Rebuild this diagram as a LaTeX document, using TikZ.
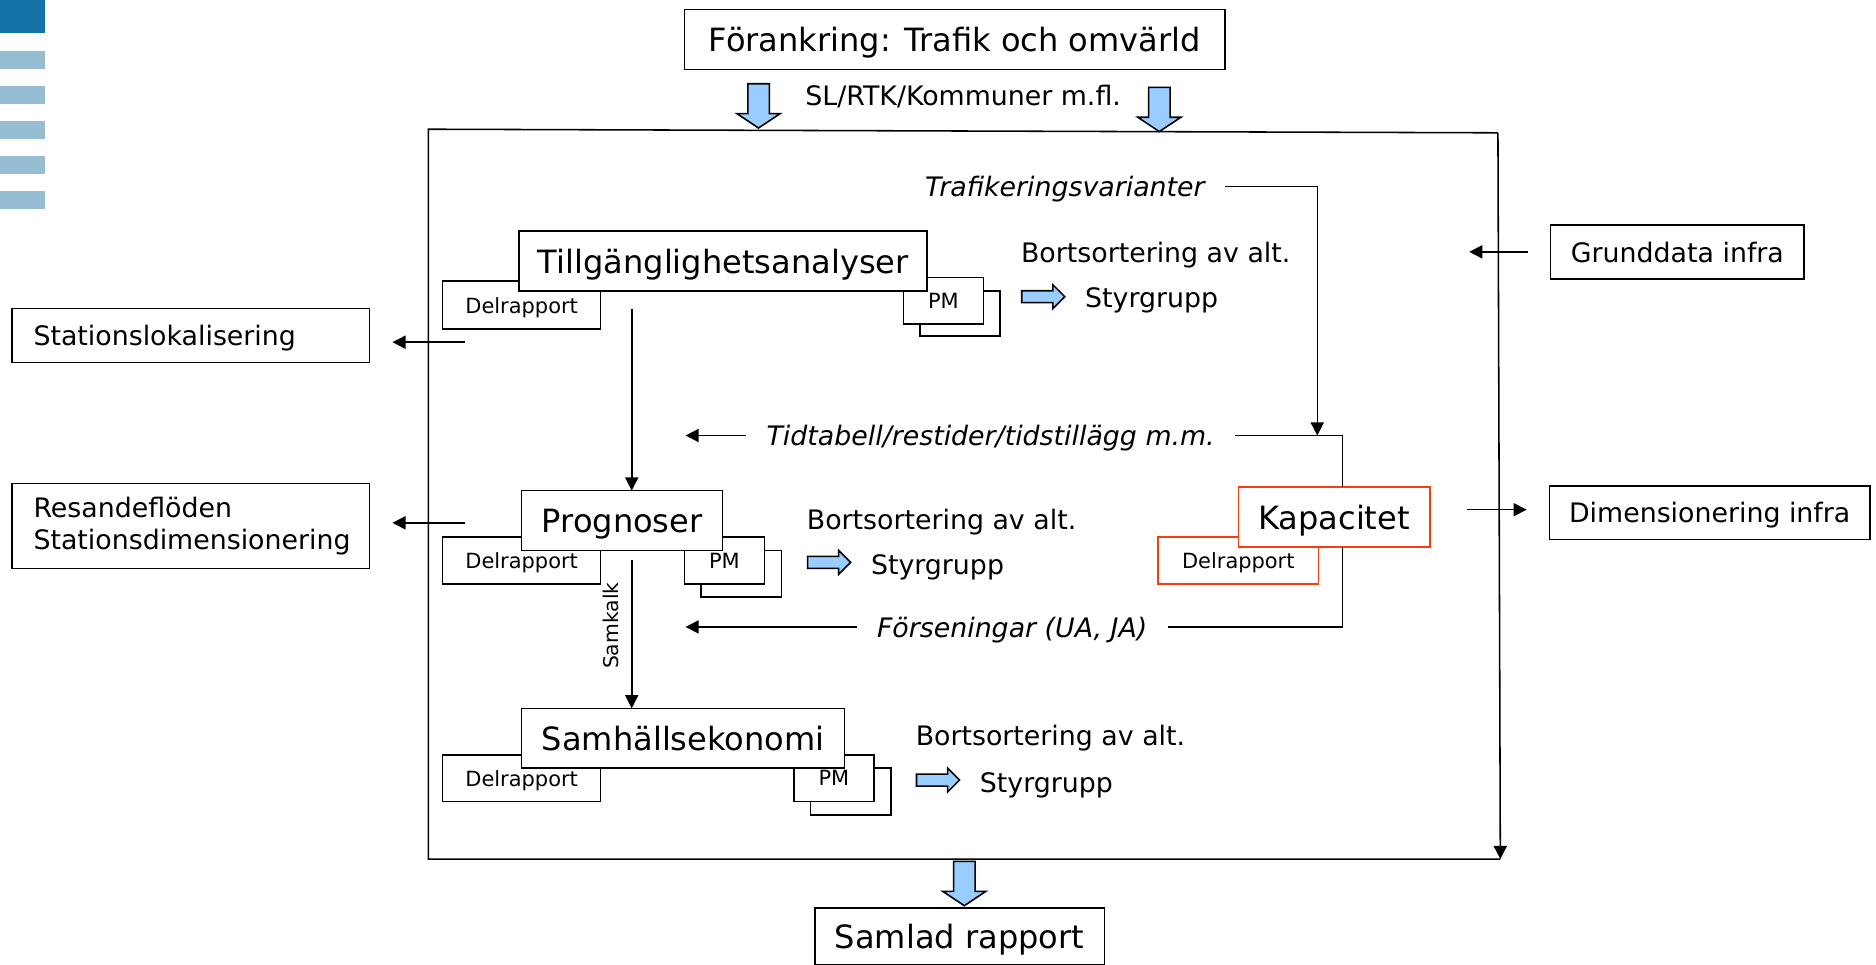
\documentclass[tikz,border=0pt]{standalone}
\usepackage{fontspec}
\setmainfont{DejaVu Sans}
\usetikzlibrary{arrows.meta,calc}
\definecolor{barDark}{RGB}{19,114,166}
\definecolor{barLight}{RGB}{150,190,211}
\definecolor{arrowFill}{RGB}{153,204,255}
\definecolor{kapRed}{RGB}{250,60,20}
\tikzset{
  blockarrow/.style={draw=black, line width=1.3pt, fill=arrowFill, line join=miter},
  pics/downblock/.style={code={\draw[blockarrow] (-9,0) -- (9,0) -- (9,25) -- (18,25) -- (0,37) -- (-18,25) -- (-9,25) -- cycle;}},
  pics/rightblock/.style={code={\draw[blockarrow] (0,-5) -- (26,-5) -- (26,-10) -- (36,0) -- (26,10) -- (26,5) -- (0,5) -- cycle;}},
}
\begin{document}
\begin{tikzpicture}[x=1pt,y=-1pt,
  every node/.style={inner sep=0pt, outer sep=0pt},
  bigbox/.style={draw, line width=1.3pt, fill=white, text depth=0pt, font=\fontsize{26.8}{32}\selectfont},
  smallbox/.style={draw, line width=1.3pt, fill=white, text depth=0pt, minimum width=132pt, minimum height=39pt, font=\fontsize{17.5}{21}\selectfont},
  pmbox/.style={draw, line width=1.3pt, fill=white, text depth=0pt, minimum width=67pt, minimum height=39pt, font=\fontsize{17.5}{21}\selectfont},
  sidebox/.style={draw, line width=1.3pt, fill=white, text depth=0pt, font=\fontsize{22.4}{27}\selectfont},
  leftbox/.style={draw, line width=1.3pt, fill=white, font=\fontsize{22.4}{27}\selectfont, inner xsep=18pt, text width=263pt, align=left, minimum width=299pt},
  midtext/.style={text depth=0pt, font=\fontsize{22.4}{27}\selectfont},
  ittext/.style={text depth=0pt, font=\fontsize{22.4}{27}\selectfont\itshape, fill=white, inner xsep=17pt, inner ysep=2pt},
  conn/.style={line width=1.3pt},
  arr/.style={conn, -{Triangle[length=11pt,width=11pt]}},
]
\useasboundingbox (0,0) rectangle (1568,806);

% decorative bars
\fill[barDark] (0,0) rectangle (38,27.5);
\foreach \yy in {42.5,71.6,101,130.4,159.7} \fill[barLight] (0,\yy) rectangle (38,\yy+15);

% frame
\draw[conn, line join=miter] (1252,111) -- (358,108) -- (358,718) -- (1254,718);
\draw[arr] (1252,111) -- (1254,718);

% top
\node[bigbox, minimum width=452pt, minimum height=50pt] (fork) at (798,33) {Förankring: Trafik och omvärld};
\node[midtext] (sl) at (805,80) {SL/RTK/Kommuner m.fl.};
\pic at (634,70) {downblock};
\pic at (969,73) {downblock};

% Tillgänglighetsanalyser
\node[smallbox, minimum height=40pt] (tdel) at (436,255) {Delrapport};
\node[pmbox, minimum height=38pt] (tpm2) at (802.5,262) {};
\node[pmbox] (tpm1) at (788.5,251.5) {PM};
\node[bigbox, minimum width=341pt, minimum height=50pt] (tillg) at (604.5,218) {Tillgänglighetsanalyser};
\node[midtext] (tbort) at (966,211) {Bortsortering av alt.};
\pic at (854,248) {rightblock};
\node[midtext, anchor=west] (tstyr) at (907,249) {Styrgrupp};

% Prognoser
\node[smallbox] (pdel) at (436,468.5) {Delrapport};
\node[pmbox] (ppm2) at (619.5,479.5) {};
\node[pmbox] (ppm1) at (605.5,468.5) {PM};
\node[bigbox, minimum width=168pt, minimum height=50pt] (prog) at (520,435) {Prognoser};
\node[midtext] (pbort) at (787,434) {Bortsortering av alt.};
\pic at (675,470) {rightblock};
\node[midtext, anchor=west] (pstyr) at (728,472) {Styrgrupp};

% Samhällsekonomi
\node[smallbox] (sdel) at (436,650.5) {Delrapport};
\node[pmbox] (spm2) at (711,661.5) {};
\node[pmbox] (spm1) at (697,650.5) {PM};
\node[bigbox, minimum width=270pt, minimum height=50pt] (samh) at (571,617) {Samhällsekonomi};
\node[midtext] (sbort) at (878,615) {Bortsortering av alt.};
\pic at (766,652) {rightblock};
\node[midtext, anchor=west] (sstyr) at (819,654) {Styrgrupp};

% Kapacitet
\node[smallbox, draw=kapRed, minimum width=134pt] (kdel) at (1035,468.5) {Delrapport};
\node[bigbox, draw=kapRed, minimum width=160pt, minimum height=50pt] (kap) at (1115,432) {Kapacitet};

% side boxes
\node[leftbox, text depth=0pt, minimum height=45pt] (stat) at (159.5,280.5) {Stationslokalisering};
\node[leftbox, minimum height=71pt] (res) at (159.5,439.5) {Resandeflöden\\Stationsdimensionering};
\node[sidebox, minimum width=212pt, minimum height=45pt] (grund) at (1402,210.5) {Grunddata infra};
\node[sidebox, minimum width=268pt, minimum height=45pt] (dim) at (1429,428.5) {Dimensionering infra};

% bottom
\node[bigbox, minimum width=242pt, minimum height=47pt] (samlad) at (802,782.5) {Samlad rapport};
\pic at (806,720) {downblock};

% Trafikeringsvarianter
\node[ittext, fill=none] (traf) at (890,156) {Trafikeringsvarianter};

% coordinates
\coordinate (tj) at (1101,364);
\coordinate (kt) at (1122,364);
\coordinate (tl) at (573,364);
\coordinate (fr) at (1122,524);
\coordinate (fl) at (573,524);
\coordinate (v1) at (528,258);
\coordinate (v2) at (528,468);
\coordinate (l1) at (389,286);
\coordinate (l2) at (389,437);
\coordinate (kd) at (0,426);

% connectors
\draw[arr] (traf.east) -| (tj);
\draw[arr] (kap.north -| kt) -- (kt) -- (tl);
\draw[arr] (kap.south -| fr) -- (fr) -- (fl);
\node[ittext] (tid) at (828,364) {Tidtabell/restider/tidstillägg m.m.};
\node[ittext] (fors) at (846,524) {Förseningar (UA, JA)};

\draw[arr] (v1) -- (v1 |- prog.north);
\draw[arr] (v2) -- (v2 |- samh.north);
\node[font=\fontsize{17}{20}\selectfont, rotate=90] (samkalk) at (511,523) {Samkalk};

\draw[arr, shorten >=19pt] (l1) -- (l1 -| stat.east);
\draw[arr, shorten >=19pt] (l2) -- (l2 -| res.east);
\draw[arr, shorten <=19pt] (grund.west) -- ++(-68,0);
\draw[arr, shorten <=31pt, shorten >=19pt] (kap.east |- kd) -- (dim.west |- kd);
\end{tikzpicture}
\end{document}
